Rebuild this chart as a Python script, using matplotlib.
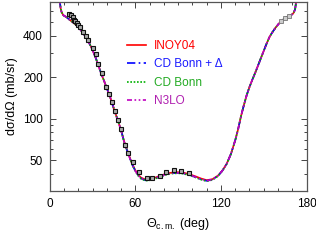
import matplotlib
matplotlib.use("Agg")
import matplotlib.pyplot as plt
from matplotlib.ticker import FixedLocator, NullFormatter, FixedFormatter

plt.rcParams['font.family'] = ['Liberation Sans', 'DejaVu Sans']
plt.rcParams['mathtext.fontset'] = 'custom'
plt.rcParams['mathtext.rm'] = 'Liberation Sans'
plt.rcParams['mathtext.it'] = 'Liberation Sans'

# theory curves (theta in deg, cross section in mb/sr)
theta = [6, 7, 7.5, 8.2, 9.4, 12, 14, 17, 20, 23, 26, 29, 32, 34, 36, 38, 40, 42, 44,
         46, 48, 50, 52, 54, 56, 58, 60, 62, 64, 67, 70, 74, 78, 82, 86, 90, 94, 98,
         102, 106, 110, 114, 118, 121, 124, 127, 130, 132, 134, 136, 138, 140, 142,
         144, 146, 148, 150, 152, 154, 156, 158, 160, 162, 164, 166, 168, 170, 171,
         172, 172.7, 173.5]
inoy04 = [900, 700, 630, 590, 561, 540, 518, 490, 461, 420, 378, 330, 278, 243, 212, 188,
          165, 146, 126, 109, 95, 82, 69, 60, 52.5, 46.5, 42.3, 39.3, 37.5, 36.4, 36.6,
          37.6, 39.0, 40.2, 40.9, 41.1, 40.7, 39.7, 38.4, 37.0, 36.0, 36.6, 38.9, 42.3,
          47.3, 55.8, 70, 84, 104, 125, 148, 170, 192, 215, 243, 275, 310, 350, 390,
          422, 452, 480, 505, 525, 542, 555, 570, 585, 620, 700, 850]
cdbonn_delta = [900, 700, 630, 590, 561, 540, 518, 490, 461, 420, 378, 330, 278, 243, 212, 188,
                165, 146, 126, 109, 95, 82, 68.5, 59.5, 52, 46, 41.8, 38.8, 37.0, 35.9, 36.1,
                37.1, 38.5, 39.7, 40.4, 40.6, 40.2, 39.2, 37.9, 36.5, 35.6, 36.3, 38.7, 42.2,
                47.2, 55.8, 70, 84, 104, 125, 148, 170, 192, 215, 243, 275, 310, 350, 390,
                422, 452, 480, 505, 525, 542, 555, 570, 585, 620, 700, 850]
cdbonn = [900, 700, 630, 590, 561, 540, 518, 490, 461, 420, 378, 330, 278, 243, 212, 188,
          165, 146, 126, 109, 95, 82, 68.5, 59.5, 52, 46, 41.6, 38.6, 36.8, 35.7, 35.9,
          36.9, 38.3, 39.5, 40.2, 40.4, 40.0, 39.0, 37.7, 36.3, 35.4, 36.1, 38.5, 42.0,
          47.0, 55.6, 70, 84, 104, 125, 148, 170, 192, 215, 243, 275, 310, 350, 390,
          422, 452, 480, 505, 525, 542, 555, 570, 585, 620, 700, 850]
n3lo = [900, 700, 630, 590, 561, 540, 518, 490, 461, 420, 378, 330, 278, 243, 212, 188,
        165, 146, 126, 109, 95, 82, 68.5, 59.5, 52, 46, 41.9, 38.9, 37.1, 36.0, 36.2,
        37.2, 38.6, 39.8, 40.5, 40.7, 40.3, 39.3, 38.0, 36.6, 35.7, 36.4, 38.8, 42.2,
        47.2, 55.8, 70, 84, 104, 125, 148, 170, 192, 215, 243, 275, 310, 350, 390,
        422, 452, 480, 505, 525, 542, 555, 570, 585, 620, 700, 850]

# experimental data
exp_theta = [13.6, 14.8, 16, 16.9, 17.8, 18.7, 19.9, 21.1, 23, 25.3, 26.9, 30, 32.1,
             34, 36.3, 39.6, 41.5, 43.2, 45.3, 47.6, 49.8, 52.7, 55.1, 58.1, 62.8,
             68, 71.5, 76.9, 81.6, 86.7, 91.9, 97.3]
exp_val = [577, 561, 545, 522, 510, 493, 475, 461, 425, 395, 374, 326, 296,
           250, 215, 170, 152, 133, 113, 98, 84, 65, 57, 49, 41,
           37.5, 37.5, 38.7, 41, 42.5, 42, 40.5]
exp_back_theta = [162, 165, 168]
exp_back_val = [510, 532, 552]

labels = ["INOY04", "CD Bonn + \u0394", "CD Bonn", "N3LO"]
colors = ["#ff0000", "#0000ff", "#00b000", "#c000c0"]
text_colors = ["#ff0000", "#1a1aff", "#22aa22", "#b020b0"]

fig = plt.figure(figsize=(3.16, 2.45), dpi=100)
ax = fig.add_axes([0.158, 0.220, 0.812, 0.772])

ax.plot(theta, inoy04, color=colors[0], lw=1.2, ls='-', label=labels[0])
ax.plot(theta, cdbonn_delta, color=colors[1], lw=1.2, ls=(0, (5, 2, 1, 2)), label=labels[1])
ax.plot(theta, cdbonn, color=colors[2], lw=1.2, ls=(0, (1, 1)), label=labels[2])
ax.plot(theta, n3lo, color=colors[3], lw=1.2, ls=(0, (3, 1.5, 1, 1.5, 1, 1.5)), label=labels[3])

ax.plot(exp_theta, exp_val, ls='none', marker='s', ms=3.2, mfc='#aaaaaa', mec='#111111', mew=0.8)
ax.plot(exp_back_theta, exp_back_val, ls='none', marker='s', ms=2.6, mfc='#cccccc', mec='#777777', mew=0.6)

ax.set_yscale('log')
ax.set_xlim(0, 180)
ax.set_ylim(30, 700)

ax.xaxis.set_major_locator(FixedLocator([0, 60, 120, 180]))
ax.xaxis.set_minor_locator(FixedLocator(list(range(0, 181, 10))))
ax.yaxis.set_major_locator(FixedLocator([50, 100, 200, 400]))
ax.yaxis.set_major_formatter(FixedFormatter(["50", "100", "200", "400"]))
ax.yaxis.set_minor_locator(FixedLocator([30, 40, 60, 70, 80, 90, 300, 500, 600, 700]))
ax.yaxis.set_minor_formatter(NullFormatter())

ax.tick_params(which='both', direction='in', top=True, right=True, labelsize=8.5,
               color='#444444', width=0.7)
ax.tick_params(which='major', length=4, pad=5)
ax.tick_params(which='minor', length=2.5)
for s in ax.spines.values():
    s.set_color('#555555')
    s.set_linewidth(0.9)

ax.set_ylabel("d\u03c3/d\u03a9 (mb/sr)", fontsize=9, labelpad=4)
ax.set_xlabel(r"$\Theta_{\rm c.m.}$ (deg)", fontsize=9, labelpad=4)

leg = ax.legend(loc='upper left', bbox_to_anchor=(0.30, 0.80), frameon=False,
                fontsize=8.5, handlelength=1.6, handletextpad=0.7, labelspacing=0.55,
                borderpad=0, borderaxespad=0)
for t, c in zip(leg.get_texts(), text_colors):
    t.set_color(c)

fig.savefig("out.png", dpi=100)
